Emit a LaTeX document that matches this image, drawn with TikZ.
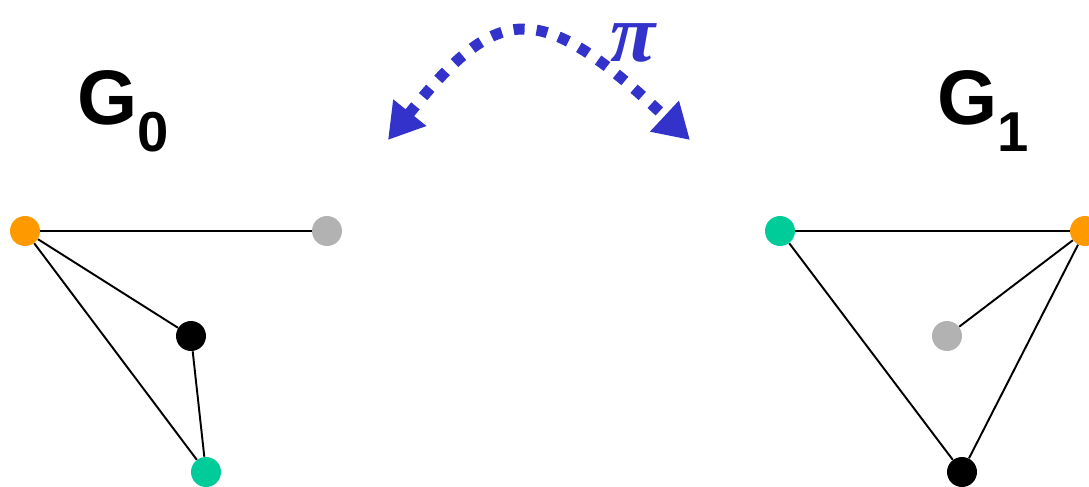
\documentclass[tikz,border=0pt]{standalone}
\usepackage{fontspec}
\setmainfont{Liberation Sans}
\newfontfamily\pifont{Liberation Serif}
\usetikzlibrary{arrows.meta, positioning}
\definecolor{cOrange}{RGB}{255,153,0}
\definecolor{cGreen}{RGB}{0,204,153}
\definecolor{cGray}{RGB}{178,178,178}
\definecolor{cBlue}{RGB}{51,51,204}
\newcommand{\gname}[1]{G\raisebox{-0.36em}{\fontsize{32}{32}\selectfont #1}}

\begin{document}
\begin{tikzpicture}[x=0.02cm, y=-0.02cm,
    vertex/.style={circle, minimum size=0.6cm, inner sep=0pt},
    edge/.style={line width=1.1pt},
    glabel/.style={font=\fontsize{44}{44}\selectfont\bfseries, anchor=base west, inner sep=0pt}]
  \useasboundingbox (0,0) rectangle (1089,487);
  % first graph
  \node[vertex, fill=cOrange] (a0) at (25,231) {};
  \node[vertex, fill=cGray] (b0) at (327,231) {};
  \node[vertex, fill=black] (c0) at (191,336) {};
  \node[vertex, fill=cGreen] (d0) at (206,472) {};
  \draw[edge] (a0) -- (b0);
  \draw[edge] (a0) -- (c0);
  \draw[edge] (a0) -- (d0);
  \draw[edge] (c0) -- (d0);
  \node[glabel] (g0) at (77,124) {\gname{0}};
  % second graph
  \node[vertex, fill=cGreen] (a1) at (780,231) {};
  \node[vertex, fill=cOrange] (b1) at (1085,231) {};
  \node[vertex, fill=cGray] (c1) at (947,336) {};
  \node[vertex, fill=black] (d1) at (962,472) {};
  \draw[edge] (a1) -- (b1);
  \draw[edge] (b1) -- (c1);
  \draw[edge] (b1) -- (d1);
  \draw[edge] (a1) -- (d1);
  \node[glabel] (g1) at (937,124) {\gname{1}};
  % permutation
  \coordinate (pl) at (388,140);
  \coordinate (pr) at (690,140);
  \draw[cBlue, line width=0.22cm, dash pattern=on 0.22cm off 0.24cm,
    {Triangle[length=0.7cm, width=0.8cm]}-{Triangle[length=0.7cm, width=0.8cm]}]
    (pl) .. controls (500,0) and (540,0) .. (pr);
  \node[text=cBlue, inner sep=0pt, anchor=base, text height=0.52em, text depth=0.02em,
    font=\pifont\fontsize{47}{47}\selectfont\bfseries\itshape]
    (pi) at (633,61) {π};
\end{tikzpicture}
\end{document}
